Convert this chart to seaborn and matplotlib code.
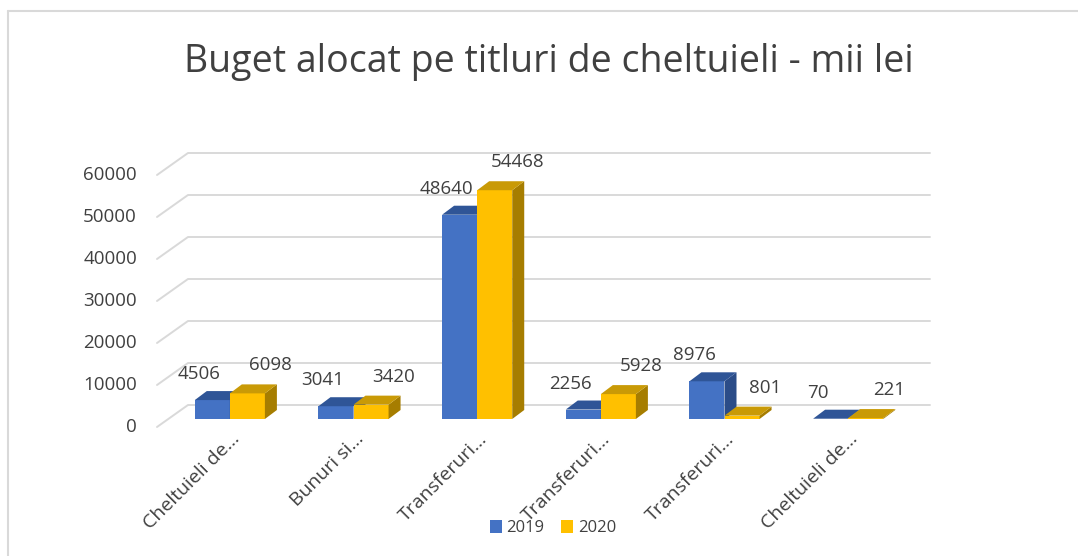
import pandas as pd
import matplotlib.pyplot as plt
import seaborn as sns
from matplotlib.patches import Polygon, Patch
from matplotlib.lines import Line2D

# chart data
title = "Buget alocat pe titluri de cheltuieli - mii lei"
categories = ["Cheltuieli de...", "Bunuri si...", "Transferuri...",
              "Transferuri...", "Transferuri...", "Cheltuieli de..."]
years = ["2019", "2020"]
values_2019 = [4506, 3041, 48640, 2256, 8976, 70]
values_2020 = [6098, 3420, 54468, 5928, 801, 221]
y_ticks = [0, 10000, 20000, 30000, 40000, 50000, 60000]

front_colors = ["#4472C4", "#FFC000"]
top_colors = ["#2F5597", "#C99A06"]
side_colors = ["#2B4C88", "#A67D00"]
text_color = "#404040"
grid_color = "#D9D9D9"

df = pd.DataFrame({
    "slot": list(range(len(categories))) * 2,
    "value": values_2019 + values_2020,
    "year": [years[0]] * len(values_2019) + [years[1]] * len(values_2020),
})

sns.set_style("white")
plt.rcParams["font.family"] = ["Open Sans", "DejaVu Sans"]

W, H = 1078, 556
fig = plt.figure(figsize=(W / 100, H / 100), dpi=100)
ax = fig.add_axes([168 / W, (H - 419) / H, 742 / W, 252 / H])

sns.barplot(data=df, x="slot", y="value", hue="year", order=list(range(len(categories))),
            hue_order=years, palette=front_colors, saturation=1, width=0.567,
            linewidth=0, ax=ax, legend=False)
ax.set_xlim(-0.5, len(categories) - 0.5)
ax.set_ylim(0, 60000)
ax.set_axis_off()


def shifted(x, y, dx, dy):
    # move a data point by a pixel offset (fake 3D depth)
    px, py = ax.transData.transform((x, y))
    return tuple(ax.transData.inverted().transform((px + dx, py + dy)))


# back wall gridlines + diagonal floor/side lines
x_left, x_right = -0.5, len(categories) - 0.5
for v in y_ticks:
    f = shifted(x_left, v, -11, -8)
    b0 = shifted(x_left, v, 20, 14)
    b1 = shifted(x_right, v, 20, 14)
    ax.plot([f[0], b0[0], b1[0]], [f[1], b0[1], b1[1]], color=grid_color,
            lw=1.4, clip_on=False, zorder=1)
    tx, ty = shifted(x_left, v, -31, -8)
    ax.text(tx, ty, f"{v}", ha="right", va="center", fontsize=13.5, color=text_color)

# depth faces and value labels
depth = (12, 9)
label_off = [(-13, 26), (23, 28)]
series = [values_2019, values_2020]
for h, container in enumerate(ax.containers):
    for i, bar in enumerate(container):
        z = 3 + h
        bar.set_zorder(z)
        x0 = bar.get_x()
        x1 = x0 + bar.get_width()
        top = bar.get_height()
        top_face = [(x0, top), (x1, top), shifted(x1, top, *depth), shifted(x0, top, *depth)]
        side_face = [(x1, 0), (x1, top), shifted(x1, top, *depth), shifted(x1, 0, *depth)]
        ax.add_patch(Polygon(side_face, closed=True, facecolor=side_colors[h],
                             edgecolor="none", zorder=z + 0.1, clip_on=False))
        ax.add_patch(Polygon(top_face, closed=True, facecolor=top_colors[h],
                             edgecolor="none", zorder=z + 0.2, clip_on=False))
        lx, ly = shifted(x0 + bar.get_width() / 2, top, *label_off[h])
        ax.text(lx, ly, f"{series[h][i]}", ha="center", va="center",
                fontsize=13.5, color=text_color, zorder=10)

# category labels
for i, cat in enumerate(categories):
    lx, ly = shifted(i, 0, 7, -17)
    ax.text(lx, ly, cat, rotation=45, ha="right", va="center", rotation_mode="anchor",
            fontsize=14, color=text_color)

fig.text(0.509, 1 - 62 / H, title, ha="center", va="center", fontsize=27, color=text_color)

handles = [Patch(facecolor=c, edgecolor="none") for c in front_colors]
fig.legend(handles, years, loc="center", bbox_to_anchor=(553 / W, 1 - 528 / H), ncol=2,
           frameon=False, fontsize=12, handlelength=0.7, handleheight=0.8,
           handletextpad=0.3, columnspacing=1.0, labelcolor=text_color)

# chart area border (left and top edges)
fig.add_artist(Line2D([8 / W, 8 / W], [0, 1 - 10.5 / H], transform=fig.transFigure,
                      color=grid_color, lw=1.5))
fig.add_artist(Line2D([8 / W, 1], [1 - 10.5 / H, 1 - 10.5 / H], transform=fig.transFigure,
                      color=grid_color, lw=1.5))

fig.savefig("out.png", dpi=100)
